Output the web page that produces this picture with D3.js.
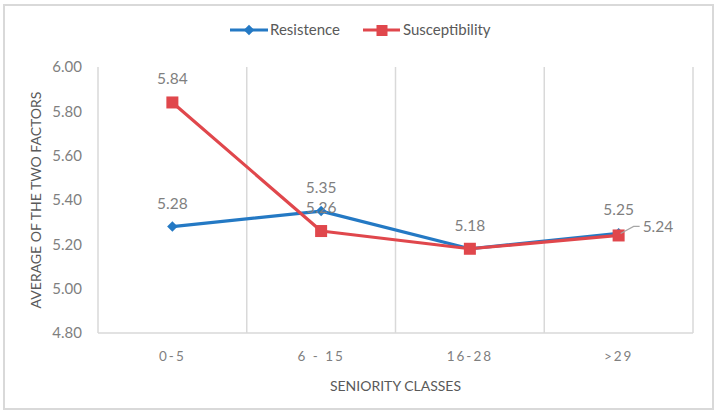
<!DOCTYPE html>
<html><head><meta charset="utf-8">
<script src="https://cdn.jsdelivr.net/npm/d3@7"></script>
<style>
html,body{margin:0;padding:0;background:#fff;}
svg{display:block;font-family:Lato,"Open Sans",sans-serif;}
</style></head>
<body>
<svg id="c" width="720" height="417"></svg>
<script>
const categories = ["0-5", "6 - 15", "16-28", ">29"];
const resistence = [5.28, 5.35, 5.18, 5.25];
const susceptibility = [5.84, 5.26, 5.18, 5.24];
const yTicks = [4.8, 5.0, 5.2, 5.4, 5.6, 5.8, 6.0];
const seriesNames = ["Resistence", "Susceptibility"];

const svg = d3.select("#c");
const blue = "#2479c4", red = "#e0474c", grid = "#d9d9d9", txt = "#7f7f7f";

// outer border
svg.append("rect").attr("x",4).attr("y",5).attr("width",709).attr("height",404)
  .attr("fill","none").attr("stroke",grid).attr("stroke-width",2);

const x = d3.scaleBand().domain(categories).range([98,693]).padding(0);
const y = d3.scaleLinear().domain([4.8,6.0]).range([333,67]);

// vertical gridlines at category boundaries
const bounds = categories.map(c => x(c) + x.bandwidth());
svg.append("g").selectAll("line").data(bounds).join("line")
  .attr("x1",d=>d).attr("x2",d=>d).attr("y1",y(6.0)).attr("y2",y(4.8))
  .attr("stroke",grid).attr("stroke-width",1.5);

// axes lines
svg.append("line").attr("x1",98).attr("x2",98).attr("y1",y(6.0)).attr("y2",y(4.8)).attr("stroke",grid).attr("stroke-width",1.5);
svg.append("line").attr("x1",98).attr("x2",693).attr("y1",y(4.8)).attr("y2",y(4.8)).attr("stroke",grid).attr("stroke-width",1.5);

// y axis ticks labels
const ya = d3.axisLeft(y).tickValues(yTicks).tickFormat(d3.format(".2f")).tickSize(0).tickPadding(16);
const yg = svg.append("g").attr("transform","translate(98,0)").call(ya);
yg.select(".domain").remove();
yg.selectAll("text").attr("fill",txt).attr("font-size",15).attr("font-family","Lato,'Open Sans',sans-serif");

// x axis labels
const xa = d3.axisBottom(x).tickSize(0).tickPadding(18);
const xg = svg.append("g").attr("transform",`translate(0,${y(4.8)})`).call(xa);
xg.select(".domain").remove();
xg.selectAll("text").attr("fill",txt).attr("font-size",13.5).attr("letter-spacing","2px")
  .attr("font-family","Lato,'Open Sans',sans-serif");

// axis titles
svg.append("text").attr("x",395.5).attr("y",391).attr("text-anchor","middle")
  .attr("fill","#595959").attr("font-size",14).text("SENIORITY CLASSES");
svg.append("text").attr("transform","translate(41,200) rotate(-90)").attr("text-anchor","middle")
  .attr("fill","#595959").attr("font-size",14).text("AVERAGE OF THE TWO FACTORS");

const cx = c => x(c) + x.bandwidth()/2;
const line = d3.line().x((d,i)=>cx(categories[i])).y(d=>y(d));

// series lines
svg.append("path").attr("d",line(resistence)).attr("fill","none").attr("stroke",blue).attr("stroke-width",3.2).attr("stroke-linejoin","round");
svg.append("path").attr("d",line(susceptibility)).attr("fill","none").attr("stroke",red).attr("stroke-width",3.2).attr("stroke-linejoin","round");

// markers
const diamond = d3.symbol().type(d3.symbolDiamond2).size(70);
svg.append("g").selectAll("path").data(resistence).join("path")
  .attr("d",diamond).attr("transform",(d,i)=>`translate(${cx(categories[i])},${y(d)})`).attr("fill",blue);
svg.append("g").selectAll("rect").data(susceptibility).join("rect")
  .attr("x",(d,i)=>cx(categories[i])-6).attr("y",d=>y(d)-6).attr("width",12).attr("height",12).attr("fill",red);

// data labels
const fmt = d3.format(".2f");
const lab = svg.append("g").attr("fill",txt).attr("font-size",15.5).attr("text-anchor","middle");
resistence.forEach((v,i)=>{
  lab.append("text").attr("x",cx(categories[i])).attr("y",y(v)-18).text(fmt(v));
});
susceptibility.forEach((v,i)=>{
  if(i===2) return; // overlaps with Resistence label
  if(i===3){
    const px = cx(categories[i]), py = y(v);
    svg.append("polyline").attr("points",`${px+2},${py-2} ${px+15},${py-9} ${px+21},${py-9}`)
      .attr("fill","none").attr("stroke","#a6a6a6").attr("stroke-width",1.2);
    lab.append("text").attr("x",px+24).attr("y",py-3).attr("text-anchor","start").text(fmt(v));
  } else {
    lab.append("text").attr("x",cx(categories[i])).attr("y",y(v)-18).text(fmt(v));
  }
});

// legend
const lg = svg.append("g").attr("font-size",15).attr("fill","#595959");
lg.append("line").attr("x1",230).attr("x2",268).attr("y1",30).attr("y2",30).attr("stroke",blue).attr("stroke-width",3.2);
lg.append("path").attr("d",diamond).attr("transform","translate(249,30)").attr("fill",blue);
lg.append("text").attr("x",270).attr("y",35).text(seriesNames[0]);
lg.append("line").attr("x1",363).attr("x2",400).attr("y1",30).attr("y2",30).attr("stroke",red).attr("stroke-width",3.2);
lg.append("rect").attr("x",376.5).attr("y",25).attr("width",11).attr("height",11).attr("fill",red);
lg.append("text").attr("x",403).attr("y",35).text(seriesNames[1]);
</script>
</body></html>
